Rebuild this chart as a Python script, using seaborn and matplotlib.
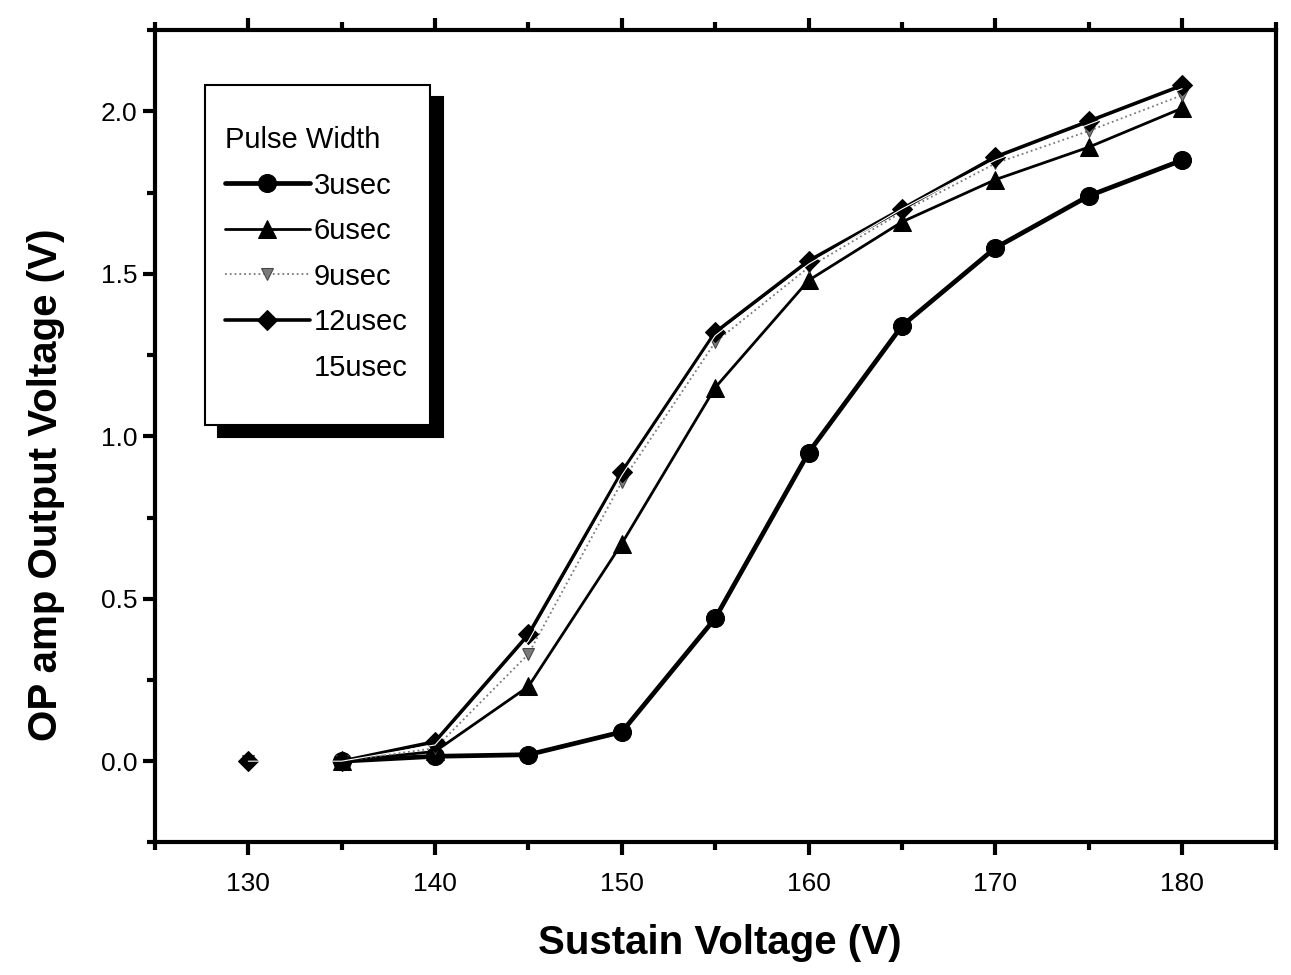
import numpy as np
import pandas as pd
import seaborn as sns
import matplotlib.pyplot as plt
from matplotlib.patches import Rectangle
from matplotlib.ticker import MultipleLocator, FormatStrFormatter

voltage = [130, 135, 140, 145, 150, 155, 160, 165, 170, 175, 180]
out_3us = [np.nan, 0.0, 0.015, 0.02, 0.09, 0.44, 0.95, 1.34, 1.58, 1.74, 1.85]
out_6us = [np.nan, 0.0, 0.03, 0.23, 0.67, 1.15, 1.48, 1.66, 1.79, 1.89, 2.01]
out_9us = [0.0, 0.0, 0.04, 0.33, 0.86, 1.29, 1.52, 1.69, 1.84, 1.94, 2.05]
out_12us = [0.0, 0.0, 0.06, 0.39, 0.89, 1.32, 1.54, 1.70, 1.86, 1.97, 2.08]
out_15us = [0.0, 0.0, 0.05, 0.37, 0.88, 1.31, 1.53, 1.70, 1.85, 1.96, 2.07]

sns.set_style("ticks")
plt.rcParams["font.family"] = ["Liberation Sans", "DejaVu Sans"]
plt.rcParams["text.color"] = "black"
plt.rcParams["axes.labelcolor"] = "black"

fig = plt.figure(figsize=(12.91, 9.75), dpi=100)
ax = fig.add_axes([0.120, 0.136, 0.868, 0.833])

styles = [
    ("3usec", out_3us, dict(color="black", marker="o", markersize=13, linewidth=3.4, linestyle="-", markeredgecolor="black")),
    ("6usec", out_6us, dict(color="black", marker="^", markersize=13, linewidth=2.0, linestyle="-", markeredgecolor="black")),
    ("9usec", out_9us, dict(color="#7a7a7a", marker="v", markersize=9, linewidth=1.3, linestyle=":", markeredgecolor="#444444")),
    ("12usec", out_12us, dict(color="black", marker="D", markersize=10, linewidth=2.6, linestyle="-", markeredgecolor="black")),
    ("15usec", out_15us, dict(color="white", marker=None, linewidth=0.8, linestyle="-")),
]

for name, vals, kw in styles:
    df = pd.DataFrame({"V": voltage, "out": vals}).dropna()
    if name in ("9usec", "12usec"):
        # first point (130 V) sits alone, its segment is hidden in the original
        sns.lineplot(data=df[df.V >= 135], x="V", y="out", ax=ax, label=name, **kw)
        mk = {k: v for k, v in kw.items() if k not in ("linestyle", "linewidth")}
        sns.lineplot(data=df[df.V < 135], x="V", y="out", ax=ax, linestyle="none", **mk)
    else:
        sns.lineplot(data=df, x="V", y="out", ax=ax, label=name, **kw)

ax.set_xlim(125, 185)
ax.set_ylim(-0.25, 2.25)
ax.xaxis.set_major_locator(MultipleLocator(10))
ax.xaxis.set_minor_locator(MultipleLocator(5))
ax.yaxis.set_major_locator(MultipleLocator(0.5))
ax.yaxis.set_minor_locator(MultipleLocator(0.25))
ax.yaxis.set_major_formatter(FormatStrFormatter("%.1f"))
ax.tick_params(which="both", direction="out", top=True, right=False, width=3,
               labelsize=19, colors="black", labelcolor="black")
ax.tick_params(which="major", length=9)
ax.tick_params(which="minor", length=6)
ax.tick_params(axis="x", pad=12)
for s in ax.spines.values():
    s.set_linewidth(3)
    s.set_color("black")
    s.set_visible(True)

ax.set_xlabel("Sustain Voltage (V)", fontsize=29, fontweight="bold")
ax.set_ylabel("OP amp Output Voltage (V)", fontsize=29, fontweight="bold")
ax.xaxis.set_label_coords(0.504, -0.100)
ax.yaxis.set_label_coords(-0.080, 0.44)

leg = ax.legend(title="Pulse Width", loc="upper left", bbox_to_anchor=(0.0625, 0.882),
                frameon=False, fontsize=21, title_fontsize=21, handlelength=2.9,
                handletextpad=0.15, labelspacing=0.6, borderpad=0, borderaxespad=0)
leg._legend_box.align = "left"
leg.set_zorder(10)

# boxed legend with a solid offset shadow, drawn by hand
fig.canvas.draw()
bb = leg.get_window_extent()
inv = fig.transFigure.inverted()
px0, py0, px1, py1 = bb.x0 - 20, bb.y0 - 43, bb.x1 + 22, bb.y1 + 41
for dx, dy, fc, z in [(13, -12, "black", 8), (0, 0, "white", 9)]:
    (x0, y0) = inv.transform((px0 + dx, py0 + dy))
    (x1, y1) = inv.transform((px1 + dx, py1 + dy))
    r = Rectangle((x0, y0), x1 - x0, y1 - y0, transform=fig.transFigure,
                  facecolor=fc, edgecolor="black", linewidth=1.5, zorder=z)
    r.set_clip_on(False)
    ax.add_artist(r)

fig.savefig("out.png", dpi=100)
